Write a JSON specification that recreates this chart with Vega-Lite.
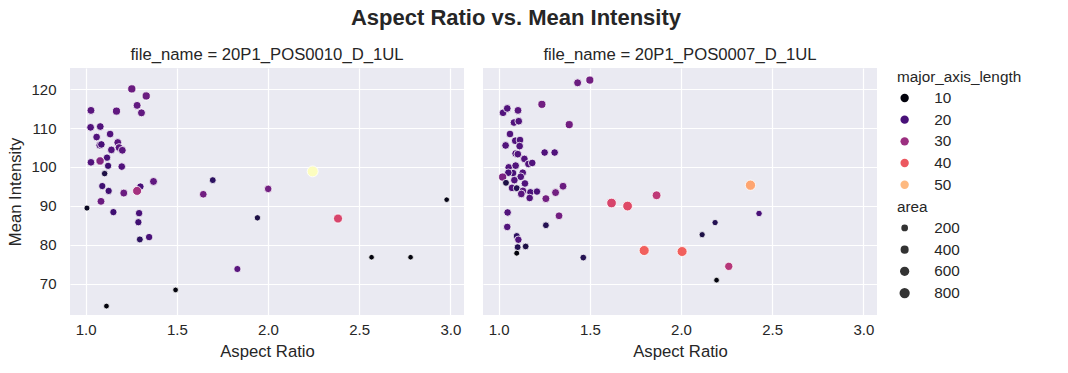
{
  "$schema": "https://vega.github.io/schema/vega-lite/v6.json",
  "background": "white",
  "padding": {"left": 7, "top": 7, "right": 5, "bottom": 5},
  "title": {"text": "Aspect Ratio vs. Mean Intensity", "fontSize": 22, "fontWeight": "bold", "font": "Liberation Sans", "color": "#262626", "anchor": "middle", "offset": 17},
  "datasets": {
    "cells": [
      {"file_name": "20P1_POS0010_D_1UL", "aspect_ratio": 1.253, "mean_intensity": 120.08, "major_axis_length": 24, "area": 420},
      {"file_name": "20P1_POS0010_D_1UL", "aspect_ratio": 1.332, "mean_intensity": 118.26, "major_axis_length": 24, "area": 420},
      {"file_name": "20P1_POS0010_D_1UL", "aspect_ratio": 1.029, "mean_intensity": 114.55, "major_axis_length": 22, "area": 380},
      {"file_name": "20P1_POS0010_D_1UL", "aspect_ratio": 1.169, "mean_intensity": 114.36, "major_axis_length": 23, "area": 400},
      {"file_name": "20P1_POS0010_D_1UL", "aspect_ratio": 1.282, "mean_intensity": 115.84, "major_axis_length": 23, "area": 380},
      {"file_name": "20P1_POS0010_D_1UL", "aspect_ratio": 1.306, "mean_intensity": 113.92, "major_axis_length": 23, "area": 380},
      {"file_name": "20P1_POS0010_D_1UL", "aspect_ratio": 1.027, "mean_intensity": 110.2, "major_axis_length": 21, "area": 350},
      {"file_name": "20P1_POS0010_D_1UL", "aspect_ratio": 1.08, "mean_intensity": 110.4, "major_axis_length": 21, "area": 350},
      {"file_name": "20P1_POS0010_D_1UL", "aspect_ratio": 1.134, "mean_intensity": 108.47, "major_axis_length": 21, "area": 340},
      {"file_name": "20P1_POS0010_D_1UL", "aspect_ratio": 1.06, "mean_intensity": 107.7, "major_axis_length": 21, "area": 340},
      {"file_name": "20P1_POS0010_D_1UL", "aspect_ratio": 1.077, "mean_intensity": 105.6, "major_axis_length": 21, "area": 340},
      {"file_name": "20P1_POS0010_D_1UL", "aspect_ratio": 1.086, "mean_intensity": 105.8, "major_axis_length": 20, "area": 320},
      {"file_name": "20P1_POS0010_D_1UL", "aspect_ratio": 1.176, "mean_intensity": 106.3, "major_axis_length": 22, "area": 360},
      {"file_name": "20P1_POS0010_D_1UL", "aspect_ratio": 1.183, "mean_intensity": 105.0, "major_axis_length": 22, "area": 360},
      {"file_name": "20P1_POS0010_D_1UL", "aspect_ratio": 1.201, "mean_intensity": 104.3, "major_axis_length": 22, "area": 360},
      {"file_name": "20P1_POS0010_D_1UL", "aspect_ratio": 1.141, "mean_intensity": 104.4, "major_axis_length": 21, "area": 340},
      {"file_name": "20P1_POS0010_D_1UL", "aspect_ratio": 1.117, "mean_intensity": 102.4, "major_axis_length": 20, "area": 300},
      {"file_name": "20P1_POS0010_D_1UL", "aspect_ratio": 1.029, "mean_intensity": 101.2, "major_axis_length": 21, "area": 340},
      {"file_name": "20P1_POS0010_D_1UL", "aspect_ratio": 1.079, "mean_intensity": 101.56, "major_axis_length": 27, "area": 450},
      {"file_name": "20P1_POS0010_D_1UL", "aspect_ratio": 1.123, "mean_intensity": 100.3, "major_axis_length": 19, "area": 280},
      {"file_name": "20P1_POS0010_D_1UL", "aspect_ratio": 1.198, "mean_intensity": 100.1, "major_axis_length": 21, "area": 330},
      {"file_name": "20P1_POS0010_D_1UL", "aspect_ratio": 1.104, "mean_intensity": 98.3, "major_axis_length": 15, "area": 170},
      {"file_name": "20P1_POS0010_D_1UL", "aspect_ratio": 1.372, "mean_intensity": 96.28, "major_axis_length": 23, "area": 380},
      {"file_name": "20P1_POS0010_D_1UL", "aspect_ratio": 1.091, "mean_intensity": 95.1, "major_axis_length": 19, "area": 280},
      {"file_name": "20P1_POS0010_D_1UL", "aspect_ratio": 1.3, "mean_intensity": 94.96, "major_axis_length": 20, "area": 300},
      {"file_name": "20P1_POS0010_D_1UL", "aspect_ratio": 1.126, "mean_intensity": 93.85, "major_axis_length": 19, "area": 280},
      {"file_name": "20P1_POS0010_D_1UL", "aspect_ratio": 1.209, "mean_intensity": 93.3, "major_axis_length": 24, "area": 380},
      {"file_name": "20P1_POS0010_D_1UL", "aspect_ratio": 1.282, "mean_intensity": 93.85, "major_axis_length": 31, "area": 560},
      {"file_name": "20P1_POS0010_D_1UL", "aspect_ratio": 1.084, "mean_intensity": 91.17, "major_axis_length": 24, "area": 370},
      {"file_name": "20P1_POS0010_D_1UL", "aspect_ratio": 1.007, "mean_intensity": 89.43, "major_axis_length": 12, "area": 110},
      {"file_name": "20P1_POS0010_D_1UL", "aspect_ratio": 1.152, "mean_intensity": 88.4, "major_axis_length": 19, "area": 280},
      {"file_name": "20P1_POS0010_D_1UL", "aspect_ratio": 1.293, "mean_intensity": 88.13, "major_axis_length": 20, "area": 300},
      {"file_name": "20P1_POS0010_D_1UL", "aspect_ratio": 1.289, "mean_intensity": 85.8, "major_axis_length": 19, "area": 280},
      {"file_name": "20P1_POS0010_D_1UL", "aspect_ratio": 1.348, "mean_intensity": 81.98, "major_axis_length": 20, "area": 300},
      {"file_name": "20P1_POS0010_D_1UL", "aspect_ratio": 1.297, "mean_intensity": 81.38, "major_axis_length": 17, "area": 230},
      {"file_name": "20P1_POS0010_D_1UL", "aspect_ratio": 1.697, "mean_intensity": 96.62, "major_axis_length": 17, "area": 220},
      {"file_name": "20P1_POS0010_D_1UL", "aspect_ratio": 1.645, "mean_intensity": 92.99, "major_axis_length": 25, "area": 340},
      {"file_name": "20P1_POS0010_D_1UL", "aspect_ratio": 2.001, "mean_intensity": 94.37, "major_axis_length": 25, "area": 320},
      {"file_name": "20P1_POS0010_D_1UL", "aspect_ratio": 1.942, "mean_intensity": 86.93, "major_axis_length": 15, "area": 150},
      {"file_name": "20P1_POS0010_D_1UL", "aspect_ratio": 2.245, "mean_intensity": 98.87, "major_axis_length": 57, "area": 950},
      {"file_name": "20P1_POS0010_D_1UL", "aspect_ratio": 2.384, "mean_intensity": 86.75, "major_axis_length": 37, "area": 560},
      {"file_name": "20P1_POS0010_D_1UL", "aspect_ratio": 2.98, "mean_intensity": 91.6, "major_axis_length": 11, "area": 60},
      {"file_name": "20P1_POS0010_D_1UL", "aspect_ratio": 2.568, "mean_intensity": 76.8, "major_axis_length": 10, "area": 60},
      {"file_name": "20P1_POS0010_D_1UL", "aspect_ratio": 2.782, "mean_intensity": 76.8, "major_axis_length": 10, "area": 60},
      {"file_name": "20P1_POS0010_D_1UL", "aspect_ratio": 1.832, "mean_intensity": 73.77, "major_axis_length": 22, "area": 260},
      {"file_name": "20P1_POS0010_D_1UL", "aspect_ratio": 1.493, "mean_intensity": 68.4, "major_axis_length": 10, "area": 70},
      {"file_name": "20P1_POS0010_D_1UL", "aspect_ratio": 1.114, "mean_intensity": 64.24, "major_axis_length": 10, "area": 80},
      {"file_name": "20P1_POS0007_D_1UL", "aspect_ratio": 1.433, "mean_intensity": 121.64, "major_axis_length": 24, "area": 380},
      {"file_name": "20P1_POS0007_D_1UL", "aspect_ratio": 1.5, "mean_intensity": 122.34, "major_axis_length": 25, "area": 400},
      {"file_name": "20P1_POS0007_D_1UL", "aspect_ratio": 1.237, "mean_intensity": 116.1, "major_axis_length": 25, "area": 400},
      {"file_name": "20P1_POS0007_D_1UL", "aspect_ratio": 1.024, "mean_intensity": 113.94, "major_axis_length": 21, "area": 340},
      {"file_name": "20P1_POS0007_D_1UL", "aspect_ratio": 1.047, "mean_intensity": 115.06, "major_axis_length": 21, "area": 340},
      {"file_name": "20P1_POS0007_D_1UL", "aspect_ratio": 1.106, "mean_intensity": 114.55, "major_axis_length": 22, "area": 360},
      {"file_name": "20P1_POS0007_D_1UL", "aspect_ratio": 1.084, "mean_intensity": 111.43, "major_axis_length": 21, "area": 340},
      {"file_name": "20P1_POS0007_D_1UL", "aspect_ratio": 1.11, "mean_intensity": 111.77, "major_axis_length": 21, "area": 340},
      {"file_name": "20P1_POS0007_D_1UL", "aspect_ratio": 1.387, "mean_intensity": 110.9, "major_axis_length": 25, "area": 400},
      {"file_name": "20P1_POS0007_D_1UL", "aspect_ratio": 1.062, "mean_intensity": 108.48, "major_axis_length": 21, "area": 340},
      {"file_name": "20P1_POS0007_D_1UL", "aspect_ratio": 1.091, "mean_intensity": 106.75, "major_axis_length": 21, "area": 340},
      {"file_name": "20P1_POS0007_D_1UL", "aspect_ratio": 1.117, "mean_intensity": 106.93, "major_axis_length": 21, "area": 340},
      {"file_name": "20P1_POS0007_D_1UL", "aspect_ratio": 1.115, "mean_intensity": 105.37, "major_axis_length": 21, "area": 340},
      {"file_name": "20P1_POS0007_D_1UL", "aspect_ratio": 1.038, "mean_intensity": 105.54, "major_axis_length": 21, "area": 340},
      {"file_name": "20P1_POS0007_D_1UL", "aspect_ratio": 1.093, "mean_intensity": 103.46, "major_axis_length": 21, "area": 340},
      {"file_name": "20P1_POS0007_D_1UL", "aspect_ratio": 1.105, "mean_intensity": 103.3, "major_axis_length": 21, "area": 340},
      {"file_name": "20P1_POS0007_D_1UL", "aspect_ratio": 1.252, "mean_intensity": 103.72, "major_axis_length": 21, "area": 320},
      {"file_name": "20P1_POS0007_D_1UL", "aspect_ratio": 1.307, "mean_intensity": 103.72, "major_axis_length": 21, "area": 320},
      {"file_name": "20P1_POS0007_D_1UL", "aspect_ratio": 1.141, "mean_intensity": 102.08, "major_axis_length": 21, "area": 330},
      {"file_name": "20P1_POS0007_D_1UL", "aspect_ratio": 1.163, "mean_intensity": 100.78, "major_axis_length": 21, "area": 330},
      {"file_name": "20P1_POS0007_D_1UL", "aspect_ratio": 1.184, "mean_intensity": 101.04, "major_axis_length": 21, "area": 330},
      {"file_name": "20P1_POS0007_D_1UL", "aspect_ratio": 1.055, "mean_intensity": 99.91, "major_axis_length": 21, "area": 330},
      {"file_name": "20P1_POS0007_D_1UL", "aspect_ratio": 1.093, "mean_intensity": 100.35, "major_axis_length": 21, "area": 340},
      {"file_name": "20P1_POS0007_D_1UL", "aspect_ratio": 1.079, "mean_intensity": 98.44, "major_axis_length": 20, "area": 320},
      {"file_name": "20P1_POS0007_D_1UL", "aspect_ratio": 1.132, "mean_intensity": 98.53, "major_axis_length": 21, "area": 330},
      {"file_name": "20P1_POS0007_D_1UL", "aspect_ratio": 1.053, "mean_intensity": 98.53, "major_axis_length": 20, "area": 320},
      {"file_name": "20P1_POS0007_D_1UL", "aspect_ratio": 1.022, "mean_intensity": 97.4, "major_axis_length": 26, "area": 420},
      {"file_name": "20P1_POS0007_D_1UL", "aspect_ratio": 1.121, "mean_intensity": 97.49, "major_axis_length": 21, "area": 340},
      {"file_name": "20P1_POS0007_D_1UL", "aspect_ratio": 1.04, "mean_intensity": 95.93, "major_axis_length": 15, "area": 220},
      {"file_name": "20P1_POS0007_D_1UL", "aspect_ratio": 1.086, "mean_intensity": 96.62, "major_axis_length": 21, "area": 330},
      {"file_name": "20P1_POS0007_D_1UL", "aspect_ratio": 1.144, "mean_intensity": 95.76, "major_axis_length": 21, "area": 330},
      {"file_name": "20P1_POS0007_D_1UL", "aspect_ratio": 1.073, "mean_intensity": 94.63, "major_axis_length": 21, "area": 330},
      {"file_name": "20P1_POS0007_D_1UL", "aspect_ratio": 1.099, "mean_intensity": 94.55, "major_axis_length": 16, "area": 230},
      {"file_name": "20P1_POS0007_D_1UL", "aspect_ratio": 1.133, "mean_intensity": 93.85, "major_axis_length": 22, "area": 350},
      {"file_name": "20P1_POS0007_D_1UL", "aspect_ratio": 1.124, "mean_intensity": 93.07, "major_axis_length": 22, "area": 350},
      {"file_name": "20P1_POS0007_D_1UL", "aspect_ratio": 1.174, "mean_intensity": 93.5, "major_axis_length": 20, "area": 310},
      {"file_name": "20P1_POS0007_D_1UL", "aspect_ratio": 1.21, "mean_intensity": 93.68, "major_axis_length": 20, "area": 300},
      {"file_name": "20P1_POS0007_D_1UL", "aspect_ratio": 1.17, "mean_intensity": 92.03, "major_axis_length": 21, "area": 330},
      {"file_name": "20P1_POS0007_D_1UL", "aspect_ratio": 1.312, "mean_intensity": 93.42, "major_axis_length": 25, "area": 380},
      {"file_name": "20P1_POS0007_D_1UL", "aspect_ratio": 1.353, "mean_intensity": 95.06, "major_axis_length": 24, "area": 370},
      {"file_name": "20P1_POS0007_D_1UL", "aspect_ratio": 1.259, "mean_intensity": 91.86, "major_axis_length": 25, "area": 380},
      {"file_name": "20P1_POS0007_D_1UL", "aspect_ratio": 1.049, "mean_intensity": 88.31, "major_axis_length": 21, "area": 320},
      {"file_name": "20P1_POS0007_D_1UL", "aspect_ratio": 1.331, "mean_intensity": 87.45, "major_axis_length": 25, "area": 360},
      {"file_name": "20P1_POS0007_D_1UL", "aspect_ratio": 1.047, "mean_intensity": 84.59, "major_axis_length": 21, "area": 320},
      {"file_name": "20P1_POS0007_D_1UL", "aspect_ratio": 1.259, "mean_intensity": 85.02, "major_axis_length": 16, "area": 210},
      {"file_name": "20P1_POS0007_D_1UL", "aspect_ratio": 1.099, "mean_intensity": 82.25, "major_axis_length": 17, "area": 240},
      {"file_name": "20P1_POS0007_D_1UL", "aspect_ratio": 1.108, "mean_intensity": 81.3, "major_axis_length": 21, "area": 300},
      {"file_name": "20P1_POS0007_D_1UL", "aspect_ratio": 1.104, "mean_intensity": 79.39, "major_axis_length": 16, "area": 220},
      {"file_name": "20P1_POS0007_D_1UL", "aspect_ratio": 1.148, "mean_intensity": 79.57, "major_axis_length": 15, "area": 200},
      {"file_name": "20P1_POS0007_D_1UL", "aspect_ratio": 1.099, "mean_intensity": 77.84, "major_axis_length": 10, "area": 100},
      {"file_name": "20P1_POS0007_D_1UL", "aspect_ratio": 1.464, "mean_intensity": 76.71, "major_axis_length": 16, "area": 200},
      {"file_name": "20P1_POS0007_D_1UL", "aspect_ratio": 1.619, "mean_intensity": 90.74, "major_axis_length": 37, "area": 680},
      {"file_name": "20P1_POS0007_D_1UL", "aspect_ratio": 1.707, "mean_intensity": 89.96, "major_axis_length": 38, "area": 690},
      {"file_name": "20P1_POS0007_D_1UL", "aspect_ratio": 1.866, "mean_intensity": 92.73, "major_axis_length": 34, "area": 520},
      {"file_name": "20P1_POS0007_D_1UL", "aspect_ratio": 1.798, "mean_intensity": 78.53, "major_axis_length": 41, "area": 760},
      {"file_name": "20P1_POS0007_D_1UL", "aspect_ratio": 2.006, "mean_intensity": 78.27, "major_axis_length": 41, "area": 740},
      {"file_name": "20P1_POS0007_D_1UL", "aspect_ratio": 2.262, "mean_intensity": 74.46, "major_axis_length": 33, "area": 430},
      {"file_name": "20P1_POS0007_D_1UL", "aspect_ratio": 2.381, "mean_intensity": 95.32, "major_axis_length": 48, "area": 800},
      {"file_name": "20P1_POS0007_D_1UL", "aspect_ratio": 2.428, "mean_intensity": 88.05, "major_axis_length": 20, "area": 170},
      {"file_name": "20P1_POS0007_D_1UL", "aspect_ratio": 2.187, "mean_intensity": 85.71, "major_axis_length": 16, "area": 140},
      {"file_name": "20P1_POS0007_D_1UL", "aspect_ratio": 2.116, "mean_intensity": 82.6, "major_axis_length": 15, "area": 130},
      {"file_name": "20P1_POS0007_D_1UL", "aspect_ratio": 2.195, "mean_intensity": 70.91, "major_axis_length": 10, "area": 70}
    ]
  },
  "data": {"name": "cells"},
  "spacing": 19,
  "facet": {
    "column": {
      "field": "file_name",
      "type": "nominal",
      "sort": ["20P1_POS0010_D_1UL", "20P1_POS0007_D_1UL"],
      "title": null,
      "header": {"labelExpr": "'file_name = ' + datum.value", "labelFontSize": 16.7, "labelFont": "Liberation Sans", "labelColor": "#262626", "labelPadding": 4}
    }
  },
  "spec": {
    "width": 394,
    "height": 247,
    "mark": {"type": "circle", "opacity": 1, "stroke": "white", "strokeWidth": 0.8},
    "encoding": {
      "x": {"field": "aspect_ratio", "type": "quantitative", "title": "Aspect Ratio",
            "scale": {"domain": [0.914, 3.075], "nice": false, "zero": false},
            "axis": {"values": [1.0, 1.5, 2.0, 2.5, 3.0], "format": ".1f"}},
      "y": {"field": "mean_intensity", "type": "quantitative", "title": "Mean Intensity",
            "scale": {"domain": [61.95, 125.45], "nice": false, "zero": false},
            "axis": {"values": [70, 80, 90, 100, 110, 120]}},
      "color": {"field": "major_axis_length", "type": "quantitative",
                "scale": {"scheme": "magma", "domain": [9, 57]},
                "legend": {"type": "symbol", "values": [10, 20, 30, 40, 50], "symbolSize": 70, "symbolType": "circle", "symbolStrokeWidth": 0, "title": "major_axis_length"}},
      "size": {"field": "area", "type": "quantitative",
               "scale": {"domain": [50, 950], "range": [30, 120]},
               "legend": {"values": [200, 400, 600, 800], "symbolFillColor": "#333333", "symbolStrokeWidth": 0, "title": "area"}}
    }
  },
  "config": {
    "font": "Liberation Sans",
    "view": {"fill": "#EAEAF2", "stroke": null},
    "axis": {
      "grid": true, "gridColor": "white", "gridWidth": 1.2, "domain": false, "ticks": false, "tickSize": 0,
      "labelFontSize": 15, "labelColor": "#262626", "labelFont": "Liberation Sans",
      "titleFontSize": 16.7, "titleColor": "#262626", "titleFont": "Liberation Sans", "titleFontWeight": "normal"
    },
    "axisX": {"labelPadding": 7, "titlePadding": 6},
    "axisY": {"labelPadding": 14, "titlePadding": 6},
    "legend": {
      "labelFontSize": 15.3, "titleFontSize": 15.3, "labelColor": "#262626", "titleColor": "#262626",
      "titleFontWeight": "normal", "labelFont": "Liberation Sans", "titleFont": "Liberation Sans",
      "rowPadding": 5.7, "titlePadding": 5, "labelOffset": 22, "offset": 18, "padding": 2,
      "layout": {"right": {"anchor": "start", "direction": "vertical", "margin": 2}}
    }
  }
}
